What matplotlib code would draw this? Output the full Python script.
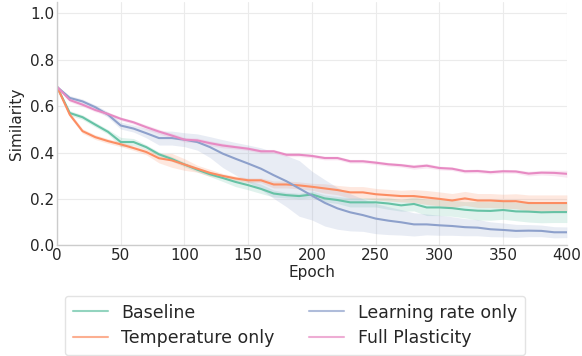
import matplotlib
matplotlib.use("Agg")
import matplotlib.pyplot as plt
import seaborn as sns
import numpy as np

epochs = list(range(0, 401, 10))

baseline = [0.684, 0.571, 0.553, 0.521, 0.490, 0.446, 0.446, 0.424, 0.393, 0.373,
            0.349, 0.327, 0.307, 0.291, 0.274, 0.260, 0.244, 0.224, 0.217, 0.213,
            0.220, 0.203, 0.196, 0.186, 0.186, 0.186, 0.181, 0.173, 0.179, 0.164,
            0.164, 0.161, 0.154, 0.150, 0.149, 0.153, 0.147, 0.146, 0.143, 0.144, 0.144]
baseline_err = [0.0, 0.01, 0.01, 0.01, 0.01, 0.02, 0.015, 0.01, 0.01, 0.01,
                0.01, 0.01, 0.01, 0.015, 0.02, 0.02, 0.02, 0.015, 0.012, 0.012,
                0.015, 0.015, 0.015, 0.02, 0.02, 0.02, 0.025, 0.025, 0.03, 0.035,
                0.035, 0.035, 0.035, 0.04, 0.04, 0.04, 0.04, 0.045, 0.045, 0.045, 0.045]

temperature = [0.684, 0.564, 0.493, 0.467, 0.450, 0.436, 0.420, 0.403, 0.376, 0.367,
               0.349, 0.331, 0.313, 0.300, 0.289, 0.281, 0.281, 0.263, 0.263, 0.259,
               0.253, 0.246, 0.239, 0.229, 0.229, 0.221, 0.217, 0.213, 0.213, 0.207,
               0.201, 0.194, 0.203, 0.194, 0.194, 0.191, 0.191, 0.183, 0.183, 0.183, 0.183]
temperature_err = [0.0, 0.01, 0.01, 0.01, 0.01, 0.01, 0.01, 0.012, 0.02, 0.03,
                   0.025, 0.015, 0.015, 0.01, 0.01, 0.01, 0.01, 0.015, 0.015, 0.015,
                   0.015, 0.02, 0.02, 0.025, 0.025, 0.025, 0.025, 0.025, 0.028, 0.03,
                   0.03, 0.03, 0.03, 0.03, 0.03, 0.03, 0.032, 0.035, 0.035, 0.035, 0.035]

learning_rate = [0.684, 0.636, 0.621, 0.596, 0.564, 0.517, 0.504, 0.484, 0.463, 0.463,
                 0.456, 0.446, 0.424, 0.396, 0.374, 0.353, 0.331, 0.303, 0.277, 0.246,
                 0.215, 0.184, 0.160, 0.143, 0.131, 0.116, 0.107, 0.100, 0.091, 0.091,
                 0.087, 0.084, 0.079, 0.077, 0.070, 0.067, 0.063, 0.064, 0.063, 0.057, 0.057]
learning_rate_err = [0.0, 0.01, 0.01, 0.01, 0.012, 0.015, 0.015, 0.02, 0.03, 0.03,
                     0.03, 0.035, 0.045, 0.06, 0.07, 0.08, 0.09, 0.10, 0.11, 0.12,
                     0.105, 0.10, 0.09, 0.08, 0.07, 0.065, 0.06, 0.055, 0.05, 0.045,
                     0.043, 0.04, 0.037, 0.035, 0.032, 0.03, 0.028, 0.026, 0.025, 0.024, 0.023]

full = [0.684, 0.627, 0.607, 0.584, 0.567, 0.546, 0.531, 0.510, 0.491, 0.474,
        0.456, 0.453, 0.441, 0.431, 0.424, 0.417, 0.406, 0.406, 0.391, 0.391,
        0.386, 0.377, 0.377, 0.363, 0.363, 0.357, 0.350, 0.346, 0.339, 0.344,
        0.334, 0.331, 0.320, 0.321, 0.316, 0.320, 0.319, 0.310, 0.314, 0.313, 0.309]
full_err = [0.0, 0.008, 0.008, 0.008, 0.008, 0.008, 0.008, 0.01, 0.01, 0.01,
            0.01, 0.01, 0.01, 0.01, 0.008, 0.008, 0.008, 0.008, 0.008, 0.008,
            0.008, 0.008, 0.008, 0.008, 0.008, 0.008, 0.008, 0.008, 0.01, 0.01,
            0.008, 0.008, 0.008, 0.008, 0.008, 0.008, 0.008, 0.01, 0.01, 0.012, 0.015]

labels = ["Baseline", "Temperature only", "Learning rate only", "Full Plasticity"]
series = [baseline, temperature, learning_rate, full]
errors = [baseline_err, temperature_err, learning_rate_err, full_err]

sns.set_theme(style="whitegrid")
plt.rcParams['font.family'] = ['DejaVu Sans']
colors = sns.color_palette("Set2", 4)

fig = plt.figure(figsize=(5.82, 3.56), dpi=100)
ax = fig.add_axes([0.098, 0.3104, 0.876, 0.6843])

x = np.array(epochs)
handles = []
for lab, y, e, c in zip(labels, series, errors, colors):
    y = np.array(y)
    e = np.array(e)
    ax.fill_between(x, y - e, y + e, color=c, alpha=0.2, linewidth=0)
    h, = ax.plot(x, y, color=c, linewidth=1.5, label=lab)
    handles.append(h)

ax.set_xlim(0, 400)
ax.set_ylim(0, 1.05)
ax.set_xticks([0, 50, 100, 150, 200, 250, 300, 350, 400])
ax.set_yticks([0.0, 0.2, 0.4, 0.6, 0.8, 1.0])
ax.set_yticklabels(["0.0", "0.2", "0.4", "0.6", "0.8", "1.0"])
ax.tick_params(axis='both', labelsize=11, pad=2, length=0)
ax.set_xlabel("Epoch", fontsize=11, labelpad=1)
ax.set_ylabel("Similarity", fontsize=11, labelpad=4)
ax.grid(True, color="#ebebeb", linewidth=0.8)
for s in ["top", "right"]:
    ax.spines[s].set_visible(False)
for s in ["left", "bottom"]:
    ax.spines[s].set_color("#cccccc")
    ax.spines[s].set_linewidth(1.0)

leg = fig.legend(handles=handles, labels=labels, loc="lower center", ncol=2,
                 bbox_to_anchor=(0.507, -0.022), fontsize=12.5, frameon=True,
                 columnspacing=2.0, handlelength=2.0, borderpad=0.45,
                 labelspacing=0.45)
leg.get_frame().set_edgecolor("#dddddd")
for lh in leg.get_lines():
    lh.set_alpha(0.7)

fig.savefig("out.png", dpi=100)
